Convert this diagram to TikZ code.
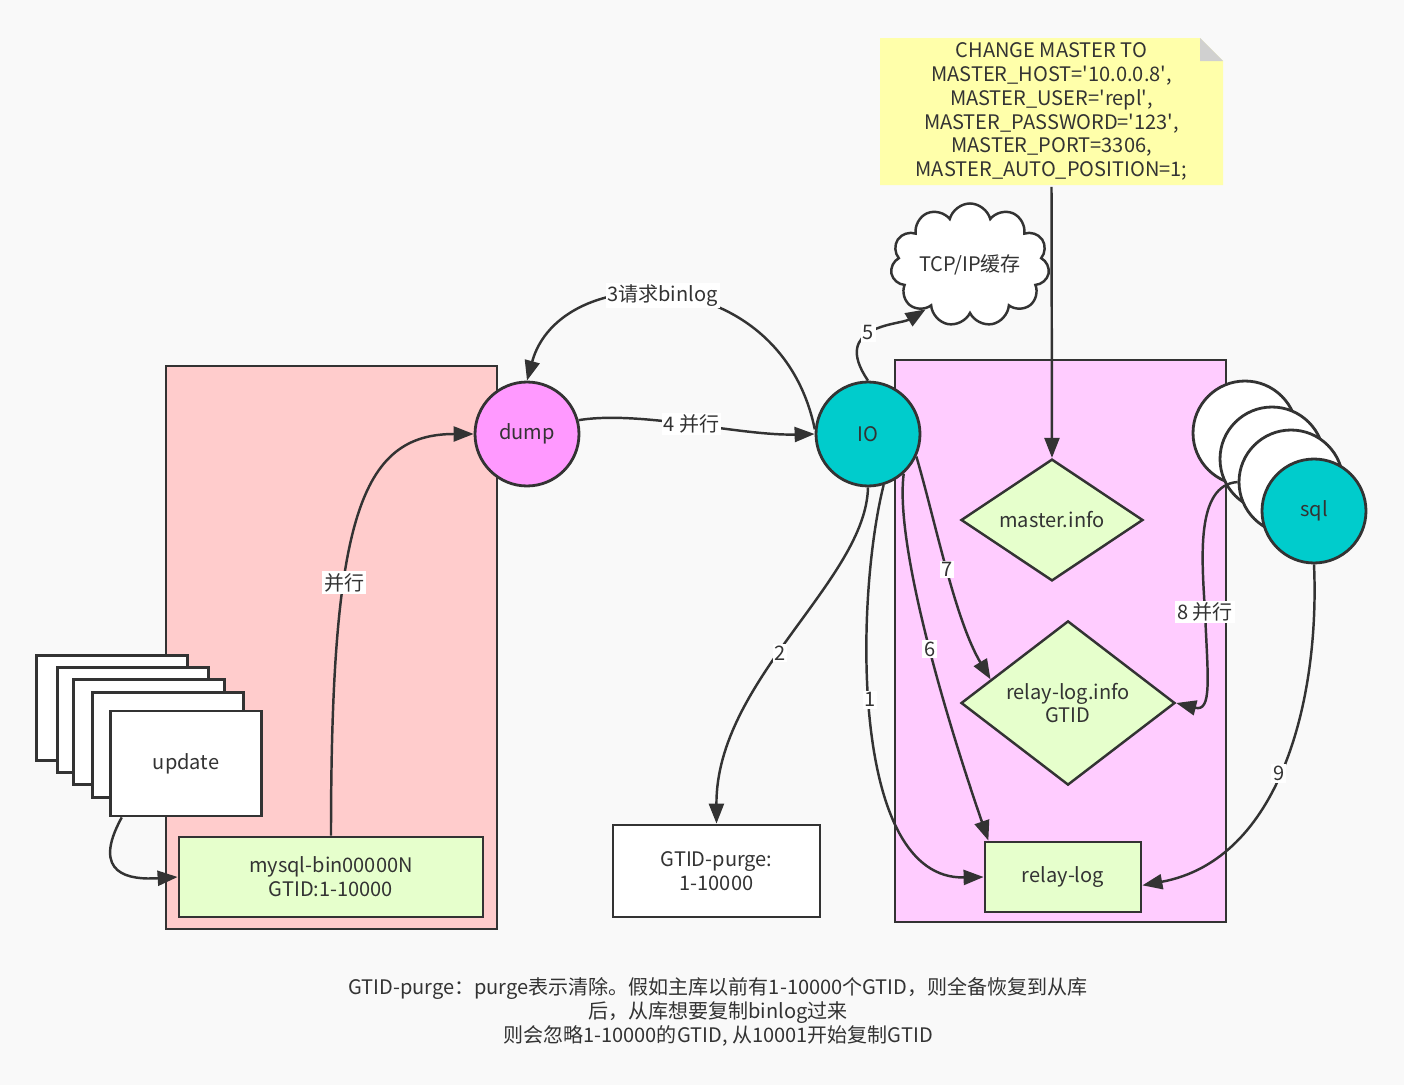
\documentclass[tikz,border=0pt]{standalone}
\usepackage{fontspec}
\setmainfont{Noto Sans CJK SC}
\usepackage{tikz}
\usetikzlibrary{arrows.meta}
\usetikzlibrary{shapes.geometric}
\usetikzlibrary{shapes.symbols}
\definecolor{linec}{HTML}{333333}
\definecolor{bgc}{HTML}{F9F9F9}
\definecolor{masterc}{HTML}{FFCCCC}
\definecolor{slavec}{HTML}{FFCCFF}
\definecolor{dumpc}{HTML}{FF99FF}
\definecolor{threadc}{HTML}{00CCCC}
\definecolor{filec}{HTML}{E6FFCC}
\definecolor{notec}{HTML}{FFFFAA}
\definecolor{earc}{HTML}{D0D0D0}
\newcommand{\sq}{\textquotesingle}

\begin{document}
\begin{tikzpicture}[x=0.02cm,y=-0.02cm,font=\fontsize{11.4pt}{13.6pt}\selectfont,text=linec,
  area/.style={rectangle,draw=linec,line width=1.6pt,inner sep=0pt},
  page/.style={rectangle,draw=linec,line width=1.6pt,fill=white,minimum width=3.02cm,minimum height=2.1cm},
  block/.style={rectangle,draw=linec,line width=1.6pt,fill=filec,align=center},
  thread/.style={circle,draw=linec,line width=1.6pt,minimum size=2.08cm,inner sep=0pt},
  info/.style={diamond,draw=linec,line width=1.4pt,fill=filec,align=center,inner sep=0pt},
  arr/.style={draw=linec,line width=1.4pt,-{Triangle[length=4mm,width=3mm]}},
  lbl/.style={fill=white,inner sep=1pt}]
  \fill[bgc] (0,0) rectangle (1404,1085);
  \useasboundingbox (0,0) rectangle (1404,1085);

  % master and slave
  \node[area,fill=masterc,minimum width=6.62cm,minimum height=11.26cm] (mbox) at (331.5,647.5) {};
  \node[area,fill=slavec,minimum width=6.62cm,minimum height=11.24cm] (sbox) at (1060.5,641) {};

  % sticky note
  \fill[notec] (880,38) -- (1200,38) -- (1223,61) -- (1223,185) -- (880,185) -- cycle;
  \fill[earc] (1200,38) -- (1200,61) -- (1223,61) -- cycle;
  \node[align=center,minimum width=6.86cm,minimum height=2.94cm] (note) at (1051.5,111.5)
    {CHANGE MASTER TO\\MASTER\_HOST=\sq10.0.0.8\sq,\\MASTER\_USER=\sq repl\sq,\\MASTER\_PASSWORD=\sq123\sq,\\MASTER\_PORT=3306,\\MASTER\_AUTO\_POSITION=1;};
  \node[cloud,cloud puffs=11,aspect=1.5,draw=linec,line width=1.4pt,fill=white,inner sep=0pt,
    minimum width=3.1cm,minimum height=2.1cm] (cld) at (970,265) {TCP/IP缓存};

  % update pages
  \foreach \cx/\cy [count=\k] in {112/708,133/720,149/732,168/745}
    \node[page] (u\k) at (\cx,\cy) {};
  \node[page] (upd) at (186,763.5) {update};

  \node[block,minimum width=6.08cm,minimum height=1.6cm] (bin) at (331,877) {mysql-bin00000N\\GTID:1-10000};
  \node[thread,fill=dumpc] (dump) at (527,434) {dump};
  \node[thread,fill=threadc] (io) at (868,434) {IO};
  \node[block,fill=white,minimum width=4.14cm,minimum height=1.84cm] (gp) at (716.5,871) {GTID-purge:\\1-10000};

  \node[info,minimum width=3.64cm,minimum height=2.38cm] (mi) at (1052,520) {master.info};
  \node[info,minimum width=4.28cm,minimum height=2.54cm] (ri) at (1068,703) {relay-log.info\\GTID};
  \node[block,minimum width=3.12cm,minimum height=1.4cm] (rl) at (1063,877) {relay-log};

  \node[thread,fill=white] (sq1) at (1245,433) {};
  \node[thread,fill=white] (sq2) at (1272,459) {};
  \node[thread,fill=white] (sq3) at (1291,482) {};
  \node[thread,fill=threadc] (sql) at (1314,511) {sql};

  % connectors
  \draw[arr] (upd.220) .. controls (90,875) and (130,880) .. (bin.west);
  \draw[arr] (bin.north) .. controls (331,520) and (360,434) .. (dump.west) node[lbl,pos=0.35] {并行};
  \draw[arr] (dump.15) .. controls (640,410) and (740,436) .. (io.west) node[lbl,pos=0.5] {4 并行};
  \draw[arr] (io.175) .. controls (780,260) and (560,260) .. (dump.north) node[lbl,pos=0.52] {3请求binlog};
  \draw[arr] (io.north) .. controls (830,325) and (900,325) .. (cld.225) node[lbl,pos=0.45] {5};
  \draw[arr] (note.south) -- (mi.north);
  \draw[arr] (io.south) .. controls (866,580) and (716,680) .. (gp.north) node[lbl,pos=0.55] {2};
  \draw[arr] (io.287) .. controls (855,600) and (850,880) .. (rl.west) node[lbl,pos=0.45] {1};
  \draw[arr] (io.312) .. controls (895,540) and (940,700) .. (rl.154) node[lbl,pos=0.55] {6};
  \draw[arr] (io.335) .. controls (935,520) and (955,620) .. (ri.163) node[lbl,pos=0.5] {7};
  \draw[arr] (sq3.west) .. controls (1195,485) and (1202,560) .. (1205,612) node[lbl] {8 并行}
    .. controls (1208,680) and (1212,712) .. (ri.east);
  \draw[arr] (sql.south) .. controls (1320,700) and (1280,860) .. (rl.354) node[lbl,pos=0.52] {9};

  \node[align=center] (cap) at (718,1012)
    {GTID-purge：purge表示清除。假如主库以前有1-10000个GTID，则全备恢复到从库\\后，从库想要复制binlog过来\\则会忽略1-10000的GTID, 从10001开始复制GTID};
\end{tikzpicture}
\end{document}
